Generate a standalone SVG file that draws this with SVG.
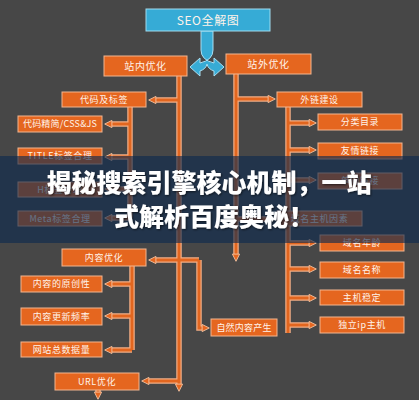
<svg xmlns="http://www.w3.org/2000/svg" width="419" height="400" viewBox="0 0 419 400">
<style>
.bx{fill:#e5661f;stroke:#f3b690;stroke-width:1}
.t{font-family:"Noto Sans CJK SC","Noto Sans",sans-serif;font-size:9px;fill:#fff3ea;text-anchor:middle;letter-spacing:0.6px}
.th{font-size:10px}
.o{fill:none;stroke:#f2ad84;stroke-width:5.5}
.i{fill:none;stroke:#e2661f;stroke-width:3}
.a{marker-end:url(#ah)}
.ttl{font-family:"Noto Sans CJK SC","Noto Sans",sans-serif;font-size:25px;font-weight:900;fill:#ffffff;text-anchor:middle}
</style>
<defs>
<marker id="ah" markerUnits="userSpaceOnUse" viewBox="0 0 10 10" markerWidth="9" markerHeight="9" refX="2" refY="5" orient="auto">
<path d="M1 1 L9 5 L1 9 Z" fill="#e5661f" stroke="#f6c4a2" stroke-width="1"/>
</marker>
<filter id="sh" x="-5%" y="-20%" width="110%" height="140%"><feDropShadow dx="1" dy="1" stdDeviation="1" flood-color="#000" flood-opacity="0.6"/></filter>
</defs>
<rect width="419" height="400" fill="#474747"/>

<g id="connectors">
<g class="o">
<path d="M179 76 V385"/><path d="M179 100 H155"/><path d="M199 260 H155"/><path d="M199 260 V328 H203"/><path d="M179 381 H148"/>
<path d="M130 106 V218"/><path d="M130 124 H111"/><path d="M130 157 H111"/><path d="M130 189 H111"/><path d="M130 218 H111"/>
<path d="M132 266 V350"/><path d="M132 284 H111"/><path d="M132 316 H111"/><path d="M132 350 H111"/>
<path d="M98 390 V393"/>
<path d="M236 74 V255"/><path d="M236 99 H269"/><path d="M236 219 H269"/>
<path d="M288 107 V333"/><path d="M288 123 H310"/><path d="M288 150 H310"/><path d="M288 180 H310"/><path d="M288 243 H310"/><path d="M288 269 H310"/><path d="M288 298 H310"/><path d="M288 325 H310"/>
</g>
<g class="i">
<path class="a" d="M179 76 V385"/><path class="a" d="M179 100 H155"/><path class="a" d="M199 260 H155"/><path class="a" d="M199 260 V328 H203"/><path class="a" d="M179 381 H148"/>
<path d="M130 106 V218"/><path class="a" d="M130 124 H111"/><path class="a" d="M130 157 H111"/><path class="a" d="M130 189 H111"/><path class="a" d="M130 218 H111"/>
<path d="M132 266 V350"/><path class="a" d="M132 284 H111"/><path class="a" d="M132 316 H111"/><path class="a" d="M132 350 H111"/>
<path class="a" d="M98 390 V393"/>
<path class="a" d="M236 74 V255"/><path class="a" d="M236 99 H269"/><path class="a" d="M236 219 H269"/>
<path d="M288 107 V333"/><path class="a" d="M288 123 H310"/><path class="a" d="M288 150 H310"/><path class="a" d="M288 180 H310"/><path class="a" d="M288 243 H310"/><path class="a" d="M288 269 H310"/><path class="a" d="M288 298 H310"/><path class="a" d="M288 325 H310"/>
</g>
<g id="blue-split" fill="#37abd5" stroke="#a8def2" stroke-width="1">
<path d="M201 31 H213 V50 Q213 60 200 63 L200 58 L190 67 L200 76 L200 71 Q206 69 207 64 Q208 69 214 71 L214 76 L224 67 L214 58 L214 63 Q201 60 201 50 Z"/>
</g>
</g>

<g id="n-seo"><rect x="146" y="9" width="124" height="22" fill="#36abd6" stroke="#9fdcf0"/><text class="t" x="208" y="24.5" style="font-size:12px">SEO全解图</text></g>
<g id="n-zn"><rect class="bx" x="104" y="56" width="83" height="20"/><text class="t th" x="145.5" y="69.5">站内优化</text></g>
<g id="n-zw"><rect class="bx" x="226" y="54" width="85" height="20"/><text class="t th" x="268.5" y="67.5">站外优化</text></g>
<g id="n-dm"><rect class="bx" x="62" y="92" width="84" height="15"/><text class="t" x="104" y="102.8">代码及标签</text></g>
<g id="n-wl"><rect class="bx" x="277" y="92" width="85" height="15"/><text class="t" x="319.5" y="102.8">外链建设</text></g>
<g id="n-css"><rect class="bx" x="18" y="116" width="84" height="16"/><text class="t" x="60" y="127.2" style="letter-spacing:0.2px">代码精简/CSS&amp;JS</text></g>
<g id="n-fl"><rect class="bx" x="318" y="114" width="84" height="16"/><text class="t" x="360" y="125.2">分类目录</text></g>
<g id="n-title"><rect class="bx" x="18" y="148" width="84" height="16"/><text class="t" x="60" y="159.2">TITLE标签合理</text></g>
<g id="n-yq"><rect class="bx" x="318" y="143" width="84" height="16"/><text class="t" x="360" y="154.2">友情链接</text></g>
<g id="n-h"><rect class="bx" x="18" y="182" width="84" height="15"/><text class="t" x="60" y="192.8">H标签合理</text></g>
<g id="n-dx"><rect class="bx" x="318" y="173" width="84" height="16"/><text class="t" x="360" y="184.2">单向链接</text></g>
<g id="n-meta"><rect class="bx" x="18" y="211" width="84" height="15"/><text class="t" x="60" y="221.8">Meta标签合理</text></g>
<g id="n-ym"><rect class="bx" x="277" y="211" width="85" height="15"/><text class="t" x="319.5" y="221.8">域名主机因素</text></g>
<g id="n-nl"><rect class="bx" x="320" y="235" width="84" height="16"/><text class="t" x="362" y="246.2">域名年龄</text></g>
<g id="n-nr"><rect class="bx" x="62" y="249" width="84" height="17"/><text class="t" x="104" y="260.8">内容优化</text></g>
<g id="n-mc"><rect class="bx" x="320" y="262" width="84" height="16"/><text class="t" x="362" y="273.2">域名名称</text></g>
<g id="n-yc"><rect class="bx" x="21" y="276" width="81" height="16"/><text class="t" x="61.5" y="287.2">内容的原创性</text></g>
<g id="n-wd"><rect class="bx" x="320" y="290" width="84" height="15"/><text class="t" x="362" y="300.8">主机稳定</text></g>
<g id="n-gx"><rect class="bx" x="21" y="308" width="81" height="17"/><text class="t" x="61.5" y="319.8">内容更新频率</text></g>
<g id="n-zr"><rect class="bx" x="211" y="319" width="66" height="17"/><text class="t" x="244" y="330.8" style="letter-spacing:0.2px">自然内容产生</text></g>
<g id="n-ip"><rect class="bx" x="320" y="317" width="84" height="16"/><text class="t" x="362" y="328.2">独立ip主机</text></g>
<g id="n-sj"><rect class="bx" x="21" y="342" width="81" height="15"/><text class="t" x="61.5" y="352.8">网站总数据量</text></g>
<g id="n-url"><rect class="bx" x="55" y="373" width="84" height="17"/><text class="t" x="97" y="384.8">URL优化</text></g>

<g id="banner">
<rect x="0" y="156" width="419" height="87" fill="#0e2a4e" opacity="0.64"/>
<g filter="url(#sh)">
<text class="ttl" x="209" y="192">揭秘搜索引擎核心机制，一站</text>
<text class="ttl" x="214" y="226">式解析百度奥秘！</text>
</g>
</g>
</svg>
